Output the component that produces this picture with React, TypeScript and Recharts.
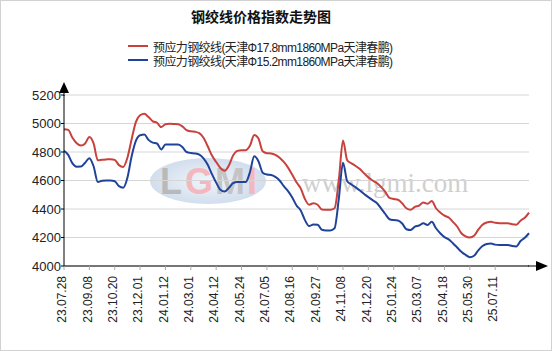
import React from 'react';
import { LineChart, Line, XAxis, YAxis, CartesianGrid } from 'recharts';

// weekly index values, 23.07.28 onwards
const red178 = [
  4960, 4955, 4900, 4862, 4845, 4860, 4905, 4860, 4742, 4745,
  4748, 4750, 4745, 4708, 4695, 4760, 4890, 5010, 5058, 5068,
  5045, 5015, 5005, 4975, 4995, 4998, 4997, 4995, 4980, 4953,
  4945, 4942, 4932, 4900, 4840, 4775, 4730, 4688, 4668, 4705,
  4775, 4808, 4813, 4813, 4845, 4920, 4895, 4805, 4792, 4790,
  4780, 4760, 4730, 4690, 4640, 4588, 4545, 4470, 4430, 4440,
  4430, 4397, 4395, 4395, 4405, 4600, 4880, 4742, 4720, 4702,
  4680, 4650, 4622, 4600, 4582, 4555, 4520, 4478, 4470, 4465,
  4440, 4405, 4395, 4415, 4424, 4446, 4436, 4457, 4405, 4375,
  4353, 4340, 4310, 4277, 4230, 4208, 4200, 4212, 4255, 4290,
  4305, 4310, 4303, 4300, 4300, 4300, 4293, 4290, 4318, 4338,
  4375
];

const blue152 = [
  4808, 4780, 4720, 4697, 4698, 4725, 4757, 4700, 4590, 4598,
  4600, 4600, 4595, 4560, 4550, 4620, 4770, 4878, 4918, 4922,
  4885, 4866, 4860, 4818, 4852, 4852, 4852, 4852, 4835, 4800,
  4793, 4790, 4782, 4755, 4710, 4645, 4585, 4535, 4522, 4548,
  4582, 4590, 4590, 4590, 4660, 4770, 4735, 4655, 4642, 4639,
  4625, 4600, 4560, 4525, 4480, 4425, 4390, 4322, 4280, 4292,
  4290, 4254, 4250, 4250, 4265, 4470, 4725, 4595, 4572, 4552,
  4530, 4505, 4483, 4462, 4442, 4405, 4365, 4328, 4322, 4320,
  4298, 4258, 4252, 4276, 4284, 4300, 4287, 4310, 4265, 4230,
  4203, 4187, 4160, 4130, 4100, 4078, 4062, 4072, 4110, 4140,
  4155, 4158, 4150, 4148, 4148, 4148, 4140, 4137, 4175, 4198,
  4230
];

const tickLabels = [
  '23.07.28', '23.09.08', '23.10.20', '23.12.01', '24.01.12', '24.03.01',
  '24.04.12', '24.05.24', '24.07.05', '24.08.16', '24.09.27', '24.11.08',
  '24.12.20', '25.01.24', '25.03.07', '25.04.18', '25.05.30', '25.07.11'
];

const yTicks = [4000, 4200, 4400, 4600, 4800, 5000, 5200];

const seriesNames = [
  '预应力钢绞线(天津Φ17.8mm1860MPa天津春鹏)',
  '预应力钢绞线(天津Φ15.2mm1860MPa天津春鹏)'
];
const RED = '#c8413c';
const BLUE = '#1f4399';

const data = red178.map((v, i) => ({ i, red: v, blue: blue152[i] }));
const xTicks = tickLabels.map((_, k) => k * 6);

const FONT = 'Arial, "Liberation Sans", "Noto Sans CJK SC", sans-serif';

const XTick = (props: any) => {
  const { x, y, payload } = props;
  const label = tickLabels[payload.value / 6] ?? '';
  return (
    <text
      transform={`translate(${x - 2},${y + 4}) rotate(-90)`}
      textAnchor="end"
      dy="0.35em"
      fontSize={12}
      fontFamily={FONT}
      fill="#222"
    >
      {label}
    </text>
  );
};

const Watermark = () => (
  <svg width={552} height={351} style={{ position: 'absolute', left: 0, top: 0 }}>
    <defs>
      <radialGradient id="wm" cx="50%" cy="50%" r="50%">
        <stop offset="0%" stopColor="#eef3f9" />
        <stop offset="100%" stopColor="#c9d8ea" />
      </radialGradient>
    </defs>
    <ellipse cx={208} cy={181} rx={58} ry={23} fill="url(#wm)" opacity={0.85} />
    <text x={160} y={194} fontSize={36} fontWeight="bold" fontFamily={FONT} fill="#b9b9b9">L</text>
    <text x={185} y={194} fontSize={36} fontWeight="bold" fontFamily={FONT} fill="#f2b8bd">G</text>
    <text x={215} y={194} fontSize={36} fontWeight="bold" fontFamily={FONT} fill="#c4c4c4">M</text>
    <text x={247} y={194} fontSize={36} fontWeight="bold" fontFamily={FONT} fill="#f2b8bd">I</text>
    <text x={302} y={192} fontSize={27} fontFamily='"Liberation Serif", "DejaVu Serif", serif' fill="#cfcfcf">
      www.lgmi.com
    </text>
  </svg>
);

const Arrows = () => (
  <svg width={552} height={351} style={{ position: 'absolute', left: 0, top: 0, pointerEvents: 'none' }}>
    <line x1={64} y1={90} x2={64} y2={96} stroke="#000" strokeWidth={1} />
    <polygon points="59,93 64,82 69,93" fill="#000" />
    <line x1={528} y1={266} x2={538} y2={266} stroke="#000" strokeWidth={1} />
    <polygon points="536,261 548,266 536,271" fill="#000" />
  </svg>
);

export default function App() {
  return (
    <div style={{ position: 'absolute', left: 0, top: 0, width: 552, height: 351, background: '#fff', fontFamily: FONT }}>
      <Watermark />
      <div style={{ position: 'absolute', left: 0, top: 0 }}>
        <LineChart width={552} height={351} data={data} margin={{ top: 95, right: 23, left: 0, bottom: 25 }}>
          <CartesianGrid horizontal vertical={false} stroke="#d6d6d6" />
          <XAxis
            type="number"
            dataKey="i"
            domain={[0, 110]}
            ticks={xTicks}
            interval={0}
            height={60}
            axisLine={{ stroke: '#000' }}
            tickLine={{ stroke: '#aaa' }}
            tickSize={4}
            tick={<XTick />}
          />
          <YAxis
            type="number"
            domain={[4000, 5200]}
            ticks={yTicks}
            interval={0}
            width={64}
            axisLine={{ stroke: '#000' }}
            tickLine={{ stroke: '#000' }}
            tickSize={3}
            tickMargin={0}
            tick={{ fontSize: 13, fill: '#222', fontFamily: FONT }}
          />
          <Line type="monotone" dataKey="red" name={seriesNames[0]} stroke={RED} strokeWidth={2} dot={false} isAnimationActive={false} />
          <Line type="monotone" dataKey="blue" name={seriesNames[1]} stroke={BLUE} strokeWidth={2} dot={false} isAnimationActive={false} />
        </LineChart>
      </div>
      <Arrows />
      <div style={{ position: 'absolute', left: 0, top: 6, width: 522, textAlign: 'center', fontSize: 14, fontWeight: 'bold', fontFamily: '"Noto Sans CJK SC", sans-serif', color: '#111' }}>
        钢绞线价格指数走势图
      </div>
      {seriesNames.map((name, k) => (
        <div key={name} style={{ position: 'absolute', left: 128, top: 39 + k * 14, height: 14, display: 'flex', alignItems: 'center', fontSize: 12, color: '#222', whiteSpace: 'nowrap' }}>
          <span style={{ display: 'inline-block', width: 20, height: 2, background: k === 0 ? RED : BLUE, marginRight: 5 }} />
          <span style={{ fontFamily: FONT, letterSpacing: -0.6 }}>{name}</span>
        </div>
      ))}
      <div style={{ position: 'absolute', left: 0, top: 0, width: 552, height: 351, boxSizing: 'border-box', border: '1px solid #d2d2d2', pointerEvents: 'none' }} />
    </div>
  );
}
